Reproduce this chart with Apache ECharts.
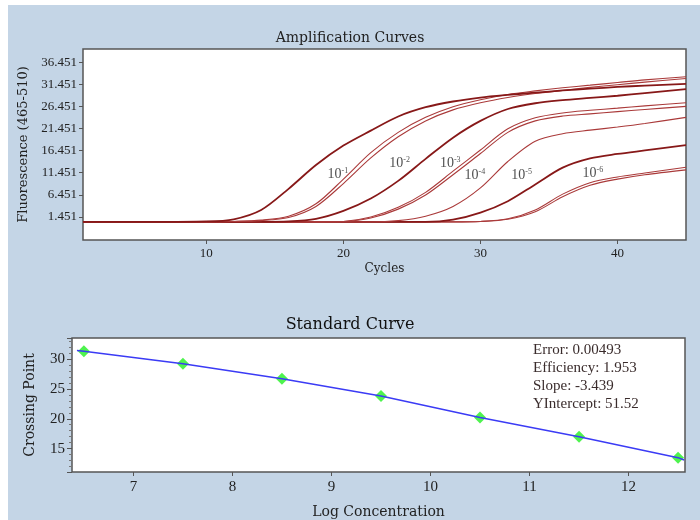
<!DOCTYPE html>
<html>
<head>
<meta charset="utf-8">
<script src="https://cdn.jsdelivr.net/npm/echarts@6/dist/echarts.min.js"></script>
<style>
  html, body { margin: 0; padding: 0; background: #fff; }
  #chart {
    width: 700px; height: 520px;
    background: linear-gradient(#c4d5e6, #c4d5e6) 8px 5px / 692px 515px no-repeat, #fff;
  }
</style>
</head>
<body>
<div id="chart"></div>
<script>
// amplification curves: fluorescence read at these cycles
var cycles = [1, 6, 10, 12, 14, 16, 18, 20, 22, 24, 26, 28, 30, 32, 34, 36, 38, 40, 42, 45];
var curveA  = [0.3, 0.3, 0.4, 0.9, 3.0, 7.8, 13.2, 17.6, 21.0, 24.2, 26.3, 27.6, 28.5, 29.1, 29.6, 30.1, 30.5, 30.9, 31.2, 31.6];
var curveB1 = [0.3, 0.3, 0.3, 0.4, 0.7, 1.6, 4.4, 10.0, 16.0, 20.6, 24.0, 26.4, 28.0, 29.2, 30.0, 30.7, 31.3, 31.9, 32.5, 33.2];
var curveB2 = [0.3, 0.3, 0.3, 0.4, 0.6, 1.3, 3.8, 9.0, 14.8, 19.6, 23.2, 25.7, 27.3, 28.5, 29.4, 30.1, 30.8, 31.4, 32.0, 32.8];
var curveC  = [0.3, 0.3, 0.3, 0.3, 0.3, 0.4, 1.0, 2.8, 5.6, 9.6, 14.6, 19.4, 23.2, 25.9, 27.2, 27.9, 28.4, 28.9, 29.5, 30.4];
var curveD1 = [0.3, 0.3, 0.3, 0.3, 0.3, 0.3, 0.3, 0.4, 1.4, 3.6, 7.0, 11.8, 16.6, 21.4, 23.9, 25.0, 25.6, 26.1, 26.6, 27.3];
var curveD2 = [0.3, 0.3, 0.3, 0.3, 0.3, 0.3, 0.3, 0.4, 1.2, 3.2, 6.4, 11.0, 15.8, 20.6, 23.2, 24.3, 24.8, 25.3, 25.8, 26.5];
var curveE  = [0.3, 0.3, 0.3, 0.3, 0.3, 0.3, 0.3, 0.3, 0.3, 0.6, 1.6, 3.8, 8.0, 14.0, 18.6, 20.3, 21.1, 21.8, 22.6, 24.0];
var curveF  = [0.3, 0.3, 0.3, 0.3, 0.3, 0.3, 0.3, 0.3, 0.3, 0.3, 0.3, 0.8, 2.4, 5.0, 8.8, 12.6, 14.7, 15.7, 16.5, 17.7];
var curveG1 = [0.3, 0.3, 0.3, 0.3, 0.3, 0.3, 0.3, 0.3, 0.3, 0.3, 0.3, 0.3, 0.4, 1.0, 3.0, 6.6, 9.2, 10.5, 11.4, 12.7];
var curveG2 = [0.3, 0.3, 0.3, 0.3, 0.3, 0.3, 0.3, 0.3, 0.3, 0.3, 0.3, 0.3, 0.4, 0.9, 2.6, 6.0, 8.6, 10.0, 11.0, 12.1];

// dilution labels on the curves
var dilutionExp = ['-1', '-2', '-3', '-4', '-5', '-6'];
var dilutionX = [19.6, 24.1, 27.8, 29.6, 33.0, 38.2];
var dilutionY = [11.1, 13.6, 13.6, 10.9, 10.9, 11.4];

var ampXTicks = [10, 20, 30, 40];
var ampYTicks = [1.451, 6.451, 11.451, 16.451, 21.451, 26.451, 31.451, 36.451];

// standard curve
var logConc = [6.5, 7.5, 8.5, 9.5, 10.5, 11.5, 12.5];
var crossingPoint = [31.3, 29.2, 26.7, 23.8, 20.2, 17.0, 13.5];
var fitX = [6.43, 6.5, 7.5, 8.5, 9.5, 10.5, 11.5, 12.5, 12.56];
var fitY = [31.4, 31.3, 29.2, 26.7, 23.8, 20.2, 17.0, 13.5, 13.1];
var stdXTicks = [7, 8, 9, 10, 11, 12];
var stdYTicks = [15, 20, 25, 30];
var statsText = ['Error: 0.00493', 'Efficiency: 1.953', 'Slope: -3.439', 'YIntercept: 51.52'];

var serif = 'Liberation Serif';
var titleFont = 'DejaVu Serif';

function pairs(xs, ys) {
  return xs.map(function (x, i) { return [x, ys[i]]; });
}

function ampLine(values, dark) {
  return {
    type: 'line', xAxisIndex: 0, yAxisIndex: 0,
    data: pairs(cycles, values),
    smooth: 0.3, showSymbol: false, silent: true,
    lineStyle: { color: dark ? '#871818' : '#aa3a3a', width: dark ? 1.8 : 1.1 }
  };
}

var chart = echarts.init(document.getElementById('chart'));

var option = {
  animation: false,
  title: [
    { text: 'Amplification Curves', left: 'center', top: 26,
      textStyle: { fontFamily: titleFont, fontSize: 14, fontWeight: 'normal', color: '#222' } },
    { text: 'Standard Curve', left: 'center', top: 312,
      textStyle: { fontFamily: titleFont, fontSize: 16, fontWeight: 'normal', color: '#111' } }
  ],
  grid: [
    { left: 83, right: 14, top: 49, height: 191, show: true, backgroundColor: '#fff',
      borderColor: '#555', borderWidth: 1.5 },
    { left: 72, right: 15, top: 338, height: 135, show: true, backgroundColor: '#fff',
      borderColor: '#555', borderWidth: 1.5 }
  ],
  xAxis: [
    { type: 'value', gridIndex: 0, min: 1, max: 45,
      name: 'Cycles', nameLocation: 'middle', nameGap: 23,
      nameTextStyle: { fontFamily: titleFont, fontSize: 12, color: '#222' },
      axisLine: { show: false, onZero: false }, splitLine: { show: false },
      axisTick: { customValues: ampXTicks, length: 4, lineStyle: { color: '#555' } },
      axisLabel: { customValues: ampXTicks, margin: 7, fontFamily: serif, fontSize: 13, color: '#222' } },
    { type: 'value', gridIndex: 1, min: 6.38, max: 12.57,
      name: 'Log Concentration', nameLocation: 'middle', nameGap: 33,
      nameTextStyle: { fontFamily: titleFont, fontSize: 14, color: '#222' },
      axisLine: { show: false, onZero: false }, splitLine: { show: false },
      axisTick: { customValues: stdXTicks, length: 4, lineStyle: { color: '#555' } },
      axisLabel: { customValues: stdXTicks, margin: 8, fontFamily: serif, fontSize: 15, color: '#222' } }
  ],
  yAxis: [
    { type: 'value', gridIndex: 0, min: -3.8, max: 39.5,
      name: 'Fluorescence (465-510)', nameLocation: 'middle', nameGap: 50, nameRotate: 90,
      nameTextStyle: { fontFamily: titleFont, fontSize: 13, color: '#222' },
      axisLine: { show: false, onZero: false }, splitLine: { show: false },
      axisTick: { customValues: ampYTicks, length: 4, lineStyle: { color: '#555' } },
      axisLabel: { customValues: ampYTicks, margin: 6, fontFamily: serif, fontSize: 13, color: '#222',
        formatter: function (v) { return v.toFixed(3); } } },
    { type: 'value', gridIndex: 1, min: 11.1, max: 33.5,
      name: 'Crossing Point', nameLocation: 'middle', nameGap: 35, nameRotate: 90,
      nameTextStyle: { fontFamily: titleFont, fontSize: 14, color: '#222' },
      axisLine: { show: false, onZero: false }, splitLine: { show: false },
      axisTick: { length: 5, lineStyle: { color: '#555' } },
      minorTick: { show: true, splitNumber: 5, length: 3, lineStyle: { color: '#777' } },
      axisLabel: { customValues: stdYTicks, margin: 7, fontFamily: serif, fontSize: 15, color: '#222' } }
  ],
  graphic: [
    { type: 'text', left: 533, top: 341, silent: true,
      style: { text: statsText.join('\n'), font: '15px "Liberation Serif"', lineHeight: 18, fill: '#3a2c2c' } }
  ],
  series: [
    ampLine(curveG1, false), ampLine(curveG2, false),
    ampLine(curveF, true), ampLine(curveE, false),
    ampLine(curveD1, false), ampLine(curveD2, false),
    ampLine(curveC, true),
    ampLine(curveB1, false), ampLine(curveB2, false),
    ampLine(curveA, true),
    {
      type: 'scatter', xAxisIndex: 0, yAxisIndex: 0, symbolSize: 0, silent: true,
      data: dilutionX.map(function (x, i) { return { value: [x, dilutionY[i]], exp: dilutionExp[i] }; }),
      label: {
        show: true, position: 'inside',
        formatter: function (p) { return '{b|10}{s|' + p.data.exp + '}'; },
        rich: {
          b: { fontFamily: serif, fontSize: 14, color: '#222', lineHeight: 15 },
          s: { fontFamily: serif, fontSize: 8, color: '#222', lineHeight: 15, verticalAlign: 'top' }
        }
      }
    },
    {
      type: 'line', xAxisIndex: 1, yAxisIndex: 1, data: pairs(fitX, fitY),
      showSymbol: false, silent: true, lineStyle: { color: '#3b3bf5', width: 1.5 }
    },
    {
      type: 'scatter', xAxisIndex: 1, yAxisIndex: 1, data: pairs(logConc, crossingPoint),
      symbol: 'diamond', symbolSize: 12, silent: true,
      itemStyle: { color: '#22f022' }
    }
  ]
};

chart.setOption(option);
</script>
</body>
</html>
